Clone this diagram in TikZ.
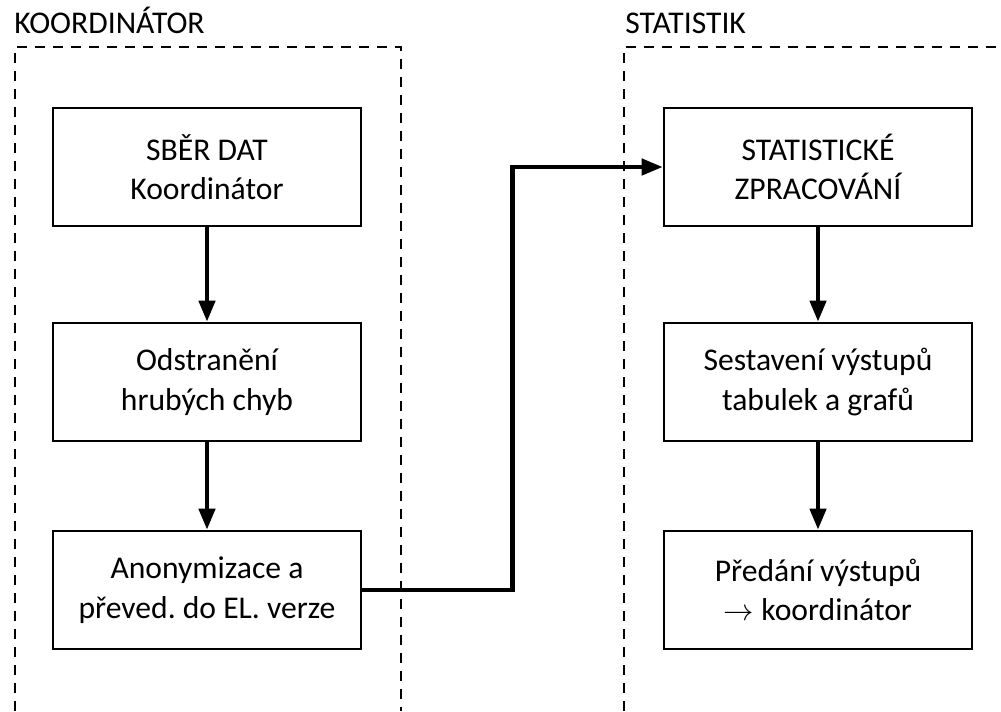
\documentclass[tikz,border=0pt]{standalone}
\usepackage{fontspec}
\setmainfont{Carlito}
\usetikzlibrary{arrows.meta,calc}

\tikzset{
  krok/.style={draw,line width=1.5pt,minimum width=6.16cm,minimum height=2.36cm,
    align=center,inner sep=2pt,font=\fontsize{18}{22.5}\selectfont},
  skupina/.style={anchor=base west,inner sep=0pt,font=\fontsize{18}{23}\selectfont},
  ramec/.style={line width=1.2pt,dash pattern=on 0.2cm off 0.16cm},
  tok/.style={line width=2.5pt,-{Triangle[length=0.42cm,width=0.32cm]}}
}

\begin{document}
\begin{tikzpicture}[line join=miter,x=0.02cm,y=-0.02cm]
    \useasboundingbox (0,0) rectangle (1001,711);
    % role
    \node[skupina] (koordlabel) at (14,33) {KOORDINÁTOR};
    \node[skupina] (statlabel) at (625,33) {STATISTIK};
    \draw[ramec] (15,711) -- (15,47) -- (401,47) -- (401,711);
    \draw[ramec] (624,711) -- (624,47) -- (1001,47);
    % koordinator
    \node[krok] (sber) at (207,167) {SBĚR DAT\\Koordinátor};
    \node[krok] (odstr) at (207,382) {Odstranění\\hrubých chyb};
    \node[krok] (anon) at (207,590) {Anonymizace a\\převed.\ do EL.\ verze};
    % statistik
    \node[krok] (zprac) at (818,167) {STATISTICKÉ\\ZPRACOVÁNÍ};
    \node[krok] (sest) at (818,382) {Sestavení výstupů\\tabulek a grafů};
    \node[krok] (pred) at (818,590) {Předání výstupů\\$\rightarrow$ koordinátor};
    % toky
    \draw[tok] (sber) -- (odstr);
    \draw[tok] (odstr) -- (anon);
    \draw[tok] (zprac) -- (sest);
    \draw[tok] (sest) -- (pred);
    \draw[tok] (anon.east) -| ($(anon.east)!0.5!(zprac.west)$) |- (zprac.west);
\end{tikzpicture}
\end{document}
